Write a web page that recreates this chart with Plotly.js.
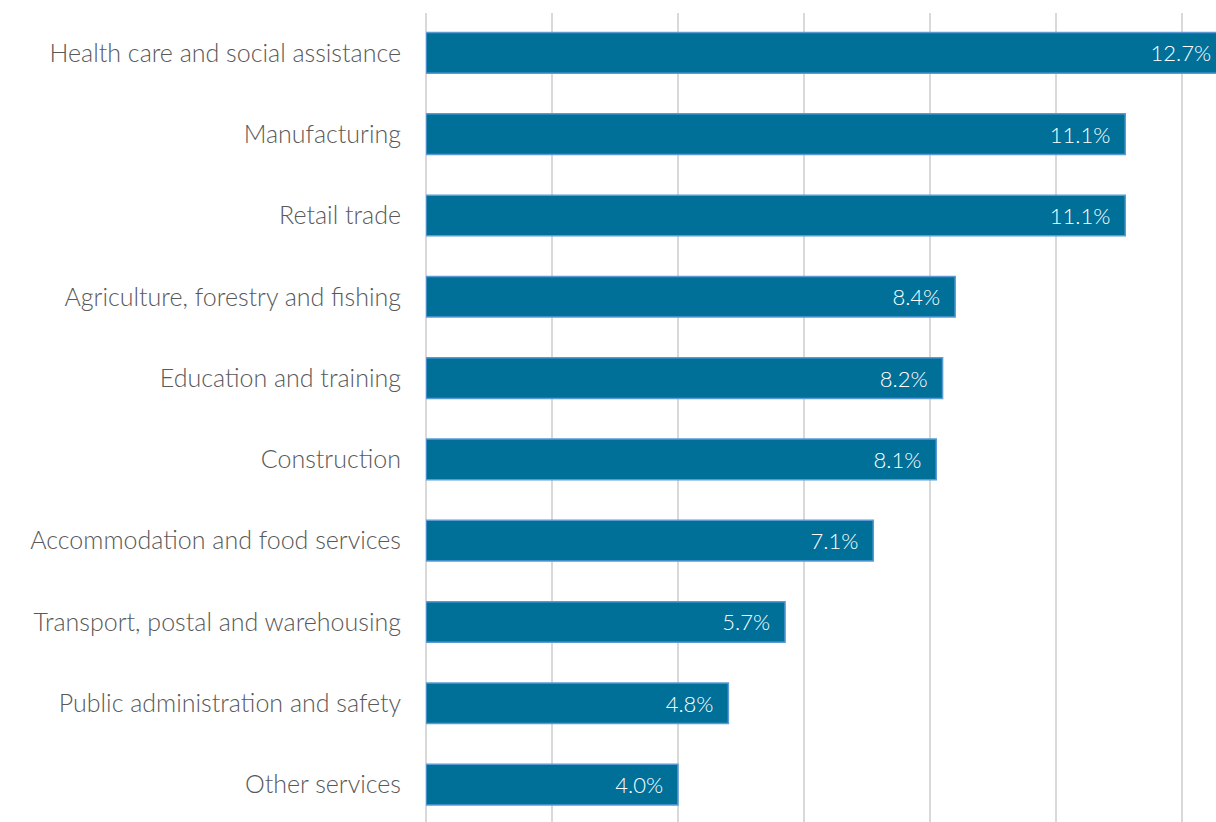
<!DOCTYPE html>
<html>
<head>
<meta charset="utf-8">
<script src="https://cdn.plot.ly/plotly-3.0.1.min.js"></script>
<style>html,body{margin:0;padding:0;background:#fff;}#chart{width:1216px;height:822px;}</style>
</head>
<body>
<div id="chart"></div>
<script>
const categories = [
  "Health care and social assistance",
  "Manufacturing",
  "Retail trade",
  "Agriculture, forestry and fishing",
  "Education and training",
  "Construction",
  "Accommodation and food services",
  "Transport, postal and warehousing",
  "Public administration and safety",
  "Other services"
];
const shares = [12.7, 11.1, 11.1, 8.4, 8.2, 8.1, 7.1, 5.7, 4.8, 4.0];
const labels = shares.map(v => v.toFixed(1) + "%\u00a0\u00a0");

const trace = {
  type: "bar",
  orientation: "h",
  x: shares,
  y: categories,
  text: labels,
  textposition: "inside",
  insidetextanchor: "end",
  textangle: 0,
  textfont: {family: "Lato", size: 22, color: "#ffffff", weight: 300},
  marker: {color: "#007099", line: {color: "#5b9bd5", width: 1.5}},
  hoverinfo: "skip"
};

const layout = {
  width: 1216, height: 822,
  margin: {l: 426, r: 0, t: 13, b: 0, pad: 0},
  paper_bgcolor: "#ffffff",
  plot_bgcolor: "#ffffff",
  bargap: 0.5,
  showlegend: false,
  font: {family: "Lato", color: "#595959"},
  xaxis: {
    range: [0, 12.54],
    dtick: 2,
    showgrid: true,
    gridcolor: "#d9d9d9",
    gridwidth: 2,
    zeroline: true,
    zerolinecolor: "#d9d9d9",
    zerolinewidth: 2,
    showticklabels: false,
    showline: false,
    fixedrange: true
  },
  yaxis: {
    type: "category",
    range: [9.46, -0.49],
    autorange: false,
    showgrid: false,
    zeroline: false,
    showline: false,
    ticks: "",
    ticklabelstandoff: 24,
    tickfont: {family: "Lato", size: 25, color: "#595959", weight: 300}
  }
};

Plotly.newPlot("chart", [trace], layout, {displayModeBar: false, staticPlot: true});
</script>
</body>
</html>
